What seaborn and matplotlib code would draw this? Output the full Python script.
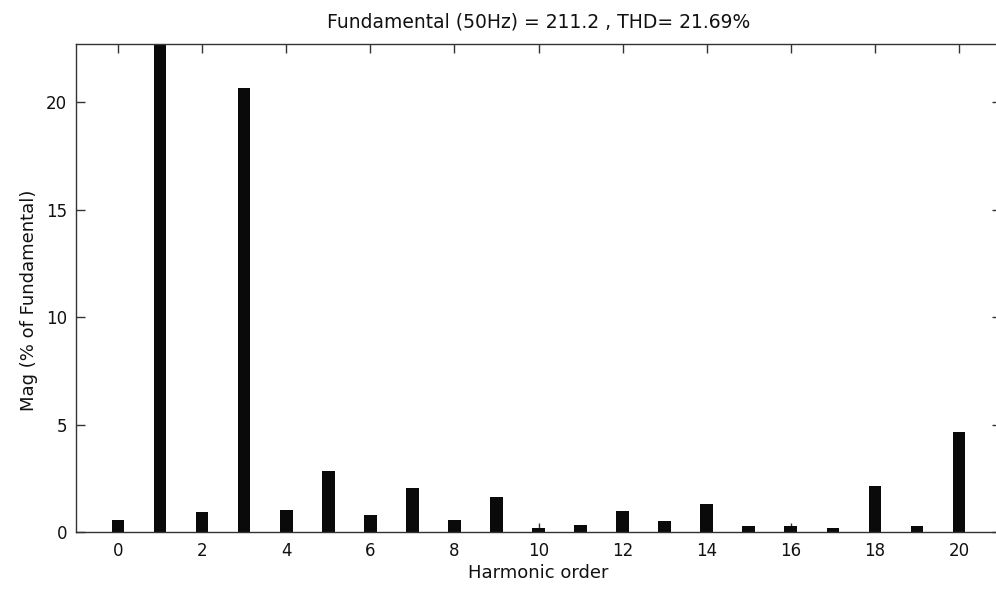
import matplotlib
matplotlib.use("Agg")
import matplotlib.pyplot as plt
import seaborn as sns
import pandas as pd

# Data
harmonic_order = list(range(21))
magnitude = [0.56, 100.0, 0.94, 20.65, 1.04, 2.84, 0.79, 2.05, 0.56, 1.64,
             0.17, 0.34, 0.96, 0.49, 1.28, 0.26, 0.26, 0.17, 2.14, 0.26, 4.65]
x_ticks = [0, 2, 4, 6, 8, 10, 12, 14, 16, 18, 20]
y_ticks = [0, 5, 10, 15, 20]
title_text = "Fundamental (50Hz) = 211.2 , THD= 21.69%"

df = pd.DataFrame({"order": harmonic_order, "mag": magnitude})

sns.set_style("white")
plt.rcParams["font.family"] = ["DejaVu Sans"]

fig = plt.figure(figsize=(9.96, 5.95), dpi=100)
ax = fig.add_axes([76 / 996, (595 - 532) / 595, (1001 - 76) / 996, (532 - 44) / 595])

sns.barplot(data=df, x="order", y="mag", native_scale=True, width=0.3,
            color="#0a0a0a", saturation=1, edgecolor="#0a0a0a", linewidth=0, ax=ax)

ax.set_xlim(-1, 21)
ax.set_ylim(0, 22.7)
ax.set_xticks(x_ticks)
ax.set_yticks(y_ticks)
ax.set_xticklabels([str(t) for t in x_ticks])
ax.set_yticklabels([str(t) for t in y_ticks])

for s in ax.spines.values():
    s.set_visible(True)
    s.set_color("#333333")
    s.set_linewidth(1.0)

ax.tick_params(axis="both", which="major", direction="in", length=6.5, width=1.0,
               color="#333333", labelsize=12, labelcolor="#111111",
               top=True, right=True, bottom=True, left=True)
ax.tick_params(axis="x", pad=7)
ax.tick_params(axis="y", pad=6.5)

ax.set_xlabel("Harmonic order", fontsize=13, color="#111111", labelpad=3)
ax.set_ylabel("Mag (% of Fundamental)", fontsize=13, color="#111111", labelpad=6)
ax.yaxis.label.set_y(0.475)
ax.set_title(title_text, fontsize=13.5, color="#111111", pad=12)
ax.grid(False)

fig.savefig("out.png", dpi=100, facecolor="white")
